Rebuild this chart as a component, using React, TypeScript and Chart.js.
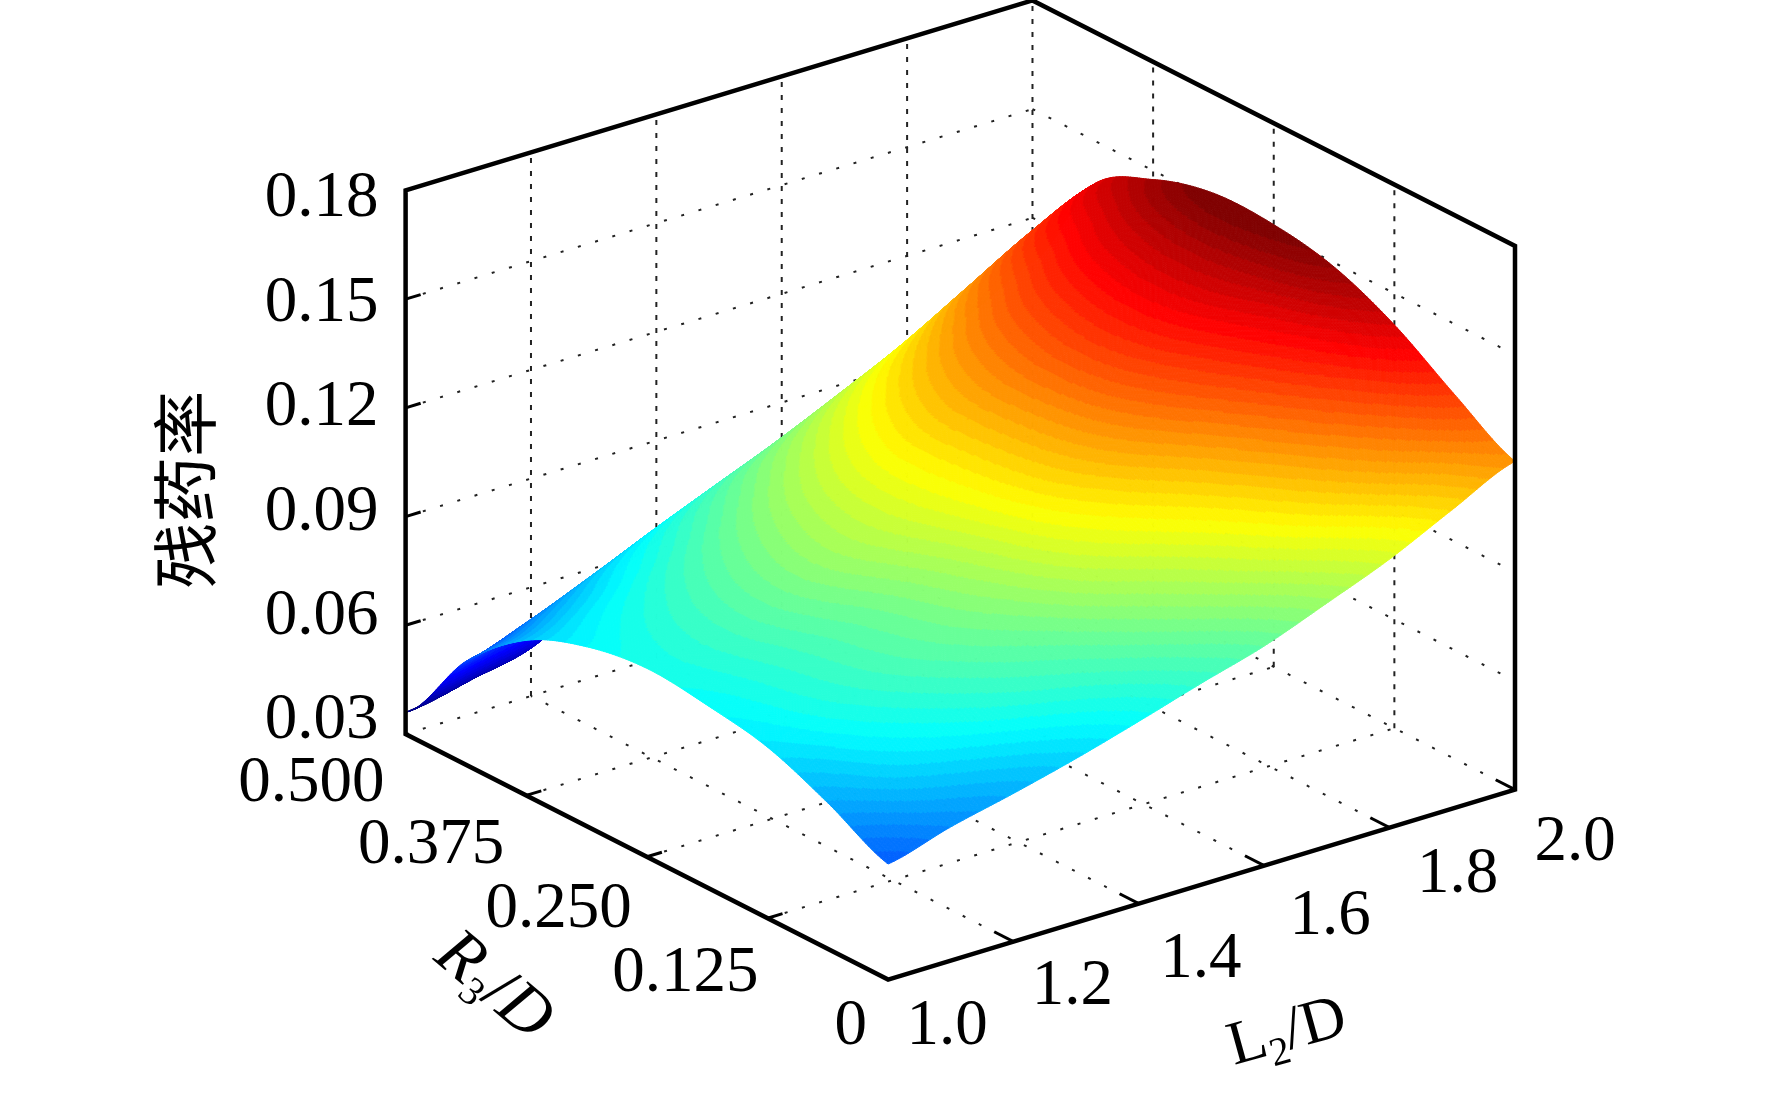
import React, { useEffect, useRef } from "react";
import { Chart, registerables } from "chart.js";

Chart.register(...registerables);

// ---- values ----
const zTicks = [0.03, 0.06, 0.09, 0.12, 0.15, 0.18];
const rTicks = [0.5, 0.375, 0.25, 0.125, 0];
const rTickLabels = ["0.500", "0.375", "0.250", "0.125", "0"];
const lTicks = [1.0, 1.2, 1.4, 1.6, 1.8, 2.0];
const lTickLabels = ["1.0", "1.2", "1.4", "1.6", "1.8", "2.0"];

const gridL = [1.0, 1.1, 1.2, 1.3, 1.4, 1.5, 1.6, 1.7, 1.8, 1.9, 2.0];
const gridR = [0, 0.0625, 0.125, 0.1875, 0.25, 0.3125, 0.375, 0.4375, 0.5];

const zAtR0000 = [0.0619, 0.0669, 0.0709, 0.0753, 0.0803, 0.0856, 0.0906, 0.0972, 0.1041, 0.1125, 0.1206];
const zAtR0625 = [0.0703, 0.0765, 0.081, 0.085, 0.0885, 0.0935, 0.0995, 0.1065, 0.1145, 0.123, 0.1305];
const zAtR1250 = [0.0772, 0.0825, 0.087, 0.091, 0.0955, 0.1025, 0.1085, 0.115, 0.1235, 0.1325, 0.1413];
const zAtR1875 = [0.0803, 0.0845, 0.089, 0.0938, 0.1, 0.1078, 0.1155, 0.1232, 0.1308, 0.1392, 0.1488];
const zAtR2500 = [0.082, 0.0859, 0.0914, 0.0975, 0.1035, 0.11, 0.118, 0.1268, 0.135, 0.1434, 0.152];
const zAtR3125 = [0.0795, 0.0836, 0.0892, 0.0956, 0.1026, 0.11, 0.1179, 0.126, 0.1345, 0.1433, 0.1522];
const zAtR3750 = [0.0728, 0.077, 0.0829, 0.0896, 0.0968, 0.1045, 0.1127, 0.1212, 0.13, 0.1391, 0.1475];
const zAtR4375 = [0.0585, 0.0644, 0.0716, 0.0791, 0.0863, 0.0934, 0.1013, 0.1097, 0.1197, 0.1297, 0.1375];
const zAtR5000 = [0.036, 0.0395, 0.0435, 0.055, 0.063, 0.071, 0.079, 0.086, 0.092, 0.099, 0.108];

const zTable = [zAtR0000, zAtR0625, zAtR1250, zAtR1875, zAtR2500, zAtR3125, zAtR3750, zAtR4375, zAtR5000];

// ---- oblique view: library scale values from (L, R, z) ----
const viewX = (L: number, R: number) => L - 1 - R * 1.5394;
const viewY = (L: number, R: number, z: number) => z + 0.05243 * (L - 1) + 0.13554 * (R - 0.5);

const FONT = '"Liberation Serif", "Noto Sans CJK SC", serif';
const Z_LOW = 0.036;
const Z_HIGH = 0.1522;

function jet(t: number): string {
  const v = Math.max(0, Math.min(1, Math.floor(t * 64) / 63));
  const ch = (c: number) => Math.round(255 * Math.max(0, Math.min(1, c)));
  const r = 1.5 - Math.abs(4 * v - 3);
  const g = 1.5 - Math.abs(4 * v - 2);
  const b = 1.5 - Math.abs(4 * v - 1);
  return `rgb(${ch(r)},${ch(g)},${ch(b)})`;
}

function cr(p0: number, p1: number, p2: number, p3: number, t: number) {
  return 0.5 * (2 * p1 + (p2 - p0) * t + (2 * p0 - 5 * p1 + 4 * p2 - p3) * t * t + (3 * p1 - p0 - 3 * p2 + p3) * t * t * t);
}

function sampleZ(ri: number, lj: number) {
  const i = Math.min(Math.floor(ri), gridR.length - 2);
  const j = Math.min(Math.floor(lj), gridL.length - 2);
  const tr = ri - i;
  const tl = lj - j;
  const row = (k: number) => {
    const a = zTable[Math.max(0, Math.min(gridR.length - 1, k))];
    const at = (n: number) => a[Math.max(0, Math.min(gridL.length - 1, n))];
    return cr(at(j - 1), at(j), at(j + 1), at(j + 2), tl);
  };
  return cr(row(i - 1), row(i), row(i + 1), row(i + 2), tr);
}

const surfacePlugin = {
  id: "surface3d",
  beforeDatasetsDraw(chart: any) {
    const { ctx, scales } = chart;
    const px = (L: number, R: number) => scales.x.getPixelForValue(viewX(L, R));
    const py = (L: number, R: number, z: number) => scales.y.getPixelForValue(viewY(L, R, z));
    const line = (a: number[], b: number[]) => {
      ctx.beginPath();
      ctx.moveTo(px(a[0], a[1]), py(a[0], a[1], a[2]));
      ctx.lineTo(px(b[0], b[1]), py(b[0], b[1], b[2]));
      ctx.stroke();
    };
    const zB = zTicks[0];
    const zT = zTicks[zTicks.length - 1];
    ctx.save();

    // dotted grid on floor and walls
    ctx.strokeStyle = "#222";
    ctx.lineWidth = 2;
    ctx.setLineDash([3, 15]);
    for (const R of rTicks) line([1, R, zB], [2, R, zB]);
    for (const L of lTicks) line([L, 0, zB], [L, 0.5, zB]);
    for (const z of zTicks.slice(1, -1)) {
      line([1, 0.5, z], [2, 0.5, z]);
      line([2, 0.5, z], [2, 0, z]);
    }
    ctx.setLineDash([5, 8]);
    for (const L of lTicks.slice(1)) line([L, 0.5, zB], [L, 0.5, zT]);
    for (const R of rTicks.slice(1, -1)) line([2, R, zB], [2, R, zT]);
    ctx.setLineDash([]);

    // surface, painted from the far corner to the near one
    const nR = 320;
    const nL = 400;
    const X: number[][] = [];
    const Y: number[][] = [];
    const Z: number[][] = [];
    for (let i = 0; i <= nR; i++) {
      X.push([]); Y.push([]); Z.push([]);
      const ri = (i / nR) * (gridR.length - 1);
      const R = (ri / (gridR.length - 1)) * 0.5;
      for (let j = 0; j <= nL; j++) {
        const lj = (j / nL) * (gridL.length - 1);
        const L = 1 + j / nL;
        const z = sampleZ(ri, lj);
        X[i].push(px(L, R));
        Y[i].push(py(L, R, z));
        Z[i].push(z);
      }
    }
    ctx.lineWidth = 1;
    ctx.lineJoin = "round";
    for (let i = nR - 1; i >= 0; i--) {
      for (let j = nL - 1; j >= 0; j--) {
        const zm = (Z[i][j] + Z[i + 1][j] + Z[i][j + 1] + Z[i + 1][j + 1]) / 4;
        const c = jet((zm - Z_LOW) / (Z_HIGH - Z_LOW));
        ctx.fillStyle = c;
        ctx.strokeStyle = c;
        ctx.beginPath();
        ctx.moveTo(X[i][j], Y[i][j]);
        ctx.lineTo(X[i + 1][j], Y[i + 1][j]);
        ctx.lineTo(X[i + 1][j + 1], Y[i + 1][j + 1]);
        ctx.lineTo(X[i][j + 1], Y[i][j + 1]);
        ctx.closePath();
        ctx.fill();
        ctx.stroke();
      }
    }

    // solid frame
    ctx.strokeStyle = "#000";
    ctx.lineWidth = 4.5;
    ctx.lineJoin = "miter";
    const frame = [
      [1, 0.5, zT], [2, 0.5, zT], [2, 0, zT], [2, 0, zB], [1, 0, zB], [1, 0.5, zB],
    ];
    ctx.beginPath();
    frame.forEach((p, k) => {
      const x = px(p[0], p[1]);
      const y = py(p[0], p[1], p[2]);
      if (k === 0) ctx.moveTo(x, y);
      else ctx.lineTo(x, y);
    });
    ctx.closePath();
    ctx.stroke();

    // tick marks
    ctx.lineWidth = 3;
    for (const z of zTicks.slice(1, -1)) line([1, 0.5, z], [1.024, 0.5, z]);
    for (const R of rTicks.slice(1, -1)) line([1, R, zB], [1.024, R, zB]);
    for (const L of lTicks.slice(1)) line([L, 0, zB], [L, 0.02, zB]);

    // tick labels along the floor edges
    ctx.fillStyle = "#000";
    ctx.font = `65px ${FONT}`;
    ctx.textBaseline = "middle";
    ctx.textAlign = "right";
    const rDx = [-21, -22, -15, -9, -21];
    const rDy = [50, 51, 53, 56, 47];
    rTicks.forEach((R, k) => {
      ctx.fillText(rTickLabels[k], px(1, R) + rDx[k], py(1, R, zB) + rDy[k]);
    });
    ctx.textAlign = "center";
    const lDx = [59, 59, 62, 66, 68, 60];
    const lDy = [47, 45, 56, 51, 47, 53];
    lTicks.forEach((L, k) => {
      ctx.fillText(lTickLabels[k], px(L, 0) + lDx[k], py(L, 0, zB) + lDy[k]);
    });

    // axis titles
    const runs = (x: number, y: number, rot: number, parts: [string, string, number][]) => {
      ctx.save();
      ctx.translate(x, y);
      ctx.rotate(rot);
      ctx.textAlign = "left";
      ctx.textBaseline = "alphabetic";
      let cx = 0;
      for (const [text, font, dy] of parts) {
        ctx.font = font;
        ctx.fillText(text, cx, dy);
        cx += ctx.measureText(text).width;
      }
      ctx.restore();
    };
    runs(432, 959, 0.7, [
      ["R", `italic 68px ${FONT}`, 0],
      ["3", `40px ${FONT}`, 12],
      ["/", `68px ${FONT}`, 0],
      ["D", `italic 68px ${FONT}`, 0],
    ]);
    runs(1234, 1065, -0.27, [
      ["L", `62px ${FONT}`, 0],
      ["2", `40px ${FONT}`, 12],
      ["/", `62px ${FONT}`, 0],
      ["D", `62px ${FONT}`, 0],
    ]);
    ctx.restore();
  },
};

export default function App() {
  const ref = useRef<HTMLCanvasElement | null>(null);
  useEffect(() => {
    const points: { x: number; y: number }[] = [];
    gridR.forEach((R, i) =>
      gridL.forEach((L, j) => points.push({ x: viewX(L, R), y: viewY(L, R, zTable[i][j]) }))
    );
    const chart = new Chart(ref.current as HTMLCanvasElement, {
      type: "scatter",
      plugins: [surfacePlugin],
      data: {
        datasets: [
          { label: "残药率", data: points, pointRadius: 0, showLine: false, xAxisID: "x", yAxisID: "y" },
        ],
      },
      options: {
        animation: false,
        responsive: false,
        devicePixelRatio: 1,
        layout: { padding: { left: 153, right: 257, top: 0, bottom: 120.4 } },
        plugins: { legend: { display: false }, tooltip: { enabled: false }, title: { display: false } },
        scales: {
          x: { type: "linear", display: false, min: -0.7697, max: 1 },
          y: { type: "linear", display: false, min: -0.03777, max: 0.23254 },
          z: {
            type: "linear",
            position: "left",
            min: -0.0442,
            max: 0.2372,
            border: { display: false },
            grid: { display: false, drawTicks: false },
            title: {
              display: true,
              text: "残药率",
              color: "#000",
              font: { family: FONT, size: 66 },
              padding: 0,
            },
            ticks: {
              color: "#000",
              font: { family: FONT, size: 65 },
              padding: 27,
              autoSkip: false,
              callback: (v: any) => Number(v).toFixed(2),
            },
            afterBuildTicks: (s: any) => {
              s.ticks = zTicks.map((value) => ({ value }));
            },
            afterFit: (s: any) => {
              s.width = 252.6;
              s.paddingTop = 0;
              s.paddingBottom = 0;
            },
          },
        },
      },
    } as any);
    return () => chart.destroy();
  }, []);
  return (
    <div style={{ position: "absolute", left: 0, top: 0, width: 1772, height: 1100, background: "#fff" }}>
      <canvas ref={ref} width={1772} height={1100} style={{ display: "block" }} />
    </div>
  );
}
